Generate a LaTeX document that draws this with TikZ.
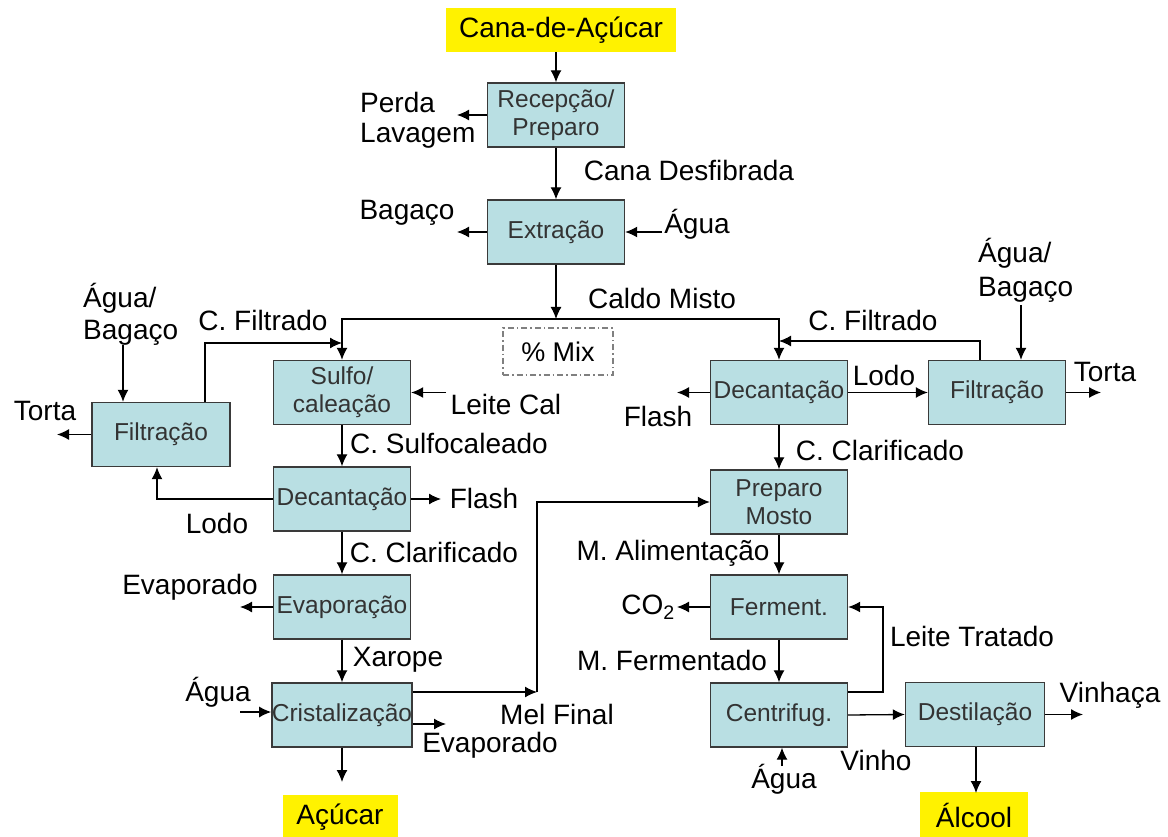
\documentclass[tikz,border=0pt]{standalone}
\usepackage{fontspec}
\setmainfont{Liberation Sans}
\usetikzlibrary{arrows.meta}
\definecolor{boxfill}{HTML}{B9DFE3}
\definecolor{boxline}{HTML}{3A3A3A}
\definecolor{boxtext}{HTML}{333333}
\definecolor{mixline}{HTML}{808080}
\begin{document}
\begin{tikzpicture}[x=1pt,y=-1pt,
  proc/.style={draw=boxline, line width=1.4pt, fill=boxfill, minimum width=137pt, minimum height=64pt, inner sep=0pt, align=center, font=\fontsize{24.5}{28}\selectfont, text=boxtext},
  prod/.style={fill=yellow, inner sep=0pt, font=\fontsize{28}{32}\selectfont},
  lbl/.style={inner sep=0pt, font=\fontsize{28}{32}\selectfont, align=left},
  arr/.style={-{Latex[length=12pt,width=11pt]}, line width=1.3pt},
  ln/.style={line width=1.3pt}]
\useasboundingbox (0,0) rectangle (1168,837);
\fill[white] (0,0) rectangle (1168,837);

% process boxes
\node[prod, minimum width=230pt, minimum height=44pt] (cana) at (561,30) {Cana-de-Açúcar};
\node[proc] (recep) at (556,115) {Recepção/\\Preparo};
\node[proc] (extr) at (556,232) {Extração};
\node[proc] (sulfo) at (342,392.5) {Sulfo/\\caleação};
\node[proc] (decL) at (342,499) {Decantação};
\node[proc] (evap) at (342,607) {Evaporação};
\node[proc] (crist) at (342,715) {Cristalização};
\node[proc, minimum width=138pt] (filtL) at (161,434.5) {Filtração};
\node[proc] (decR) at (779,392.5) {Decantação};
\node[proc] (filtR) at (997,392.5) {Filtração};
\node[proc] (prep) at (779,502) {Preparo\\Mosto};
\node[proc] (ferm) at (779,607) {Ferment.};
\node[proc] (centr) at (779,715) {Centrifug.};
\node[proc, minimum width=139pt] (dest) at (975,714.5) {Destilação};
\node[prod, minimum width=115pt, minimum height=44pt] (acucar) at (340,817) {Açúcar};
\node[prod, minimum width=108pt, minimum height=46pt] (alcool) at (974,815) {Álcool};
\node[draw=mixline, dash pattern=on 6pt off 3pt on 1.5pt off 3pt, line width=1.5pt, minimum width=110pt, minimum height=47pt, inner sep=0pt, font=\fontsize{27}{30}\selectfont] (mix) at (558,351.5) {\% Mix};

% labels
\node[lbl, anchor=west] (perda) at (360,120) {Perda\\[-2pt]Lavagem};
\node[lbl] (canadesf) at (689,170) {Cana Desfibrada};
\node[lbl] (bagaco) at (407,213) {Bagaço};
\node[lbl] (aguaE) at (697,224) {Água};
\node[lbl] (caldo) at (662,298) {Caldo Misto};
\node[lbl] (cfiltL) at (263,320) {C. Filtrado};
\node[lbl, anchor=west] (abL) at (83,314) {Água/\\Bagaço};
\node[lbl] (tortaL) at (45,411) {Torta};
\node[lbl] (leitecal) at (506,404) {Leite Cal};
\node[lbl] (csulfo) at (449,443) {C. Sulfocaleado};
\node[lbl] (flashL) at (484,498) {Flash};
\node[lbl] (lodoL) at (217,523) {Lodo};
\node[lbl] (cclarL) at (434,552) {C. Clarificado};
\node[lbl] (evapdoL) at (190,587) {Evaporado};
\node[lbl] (xarope) at (398,660) {Xarope};
\node[lbl] (aguaC) at (218,692) {Água};
\node[lbl] (evapdoB) at (490,745) {Evaporado};
\node[lbl] (melfinal) at (557,714) {Mel Final};
\node[lbl] (cfiltR) at (873,320) {C. Filtrado};
\node[lbl, anchor=west] (abR) at (978,270) {Água/\\[2pt]Bagaço};
\node[lbl] (lodoR) at (884,375) {Lodo};
\node[lbl] (tortaR) at (1105,372) {Torta};
\node[lbl] (flashR) at (658,416) {Flash};
\node[lbl] (cclarR) at (880,450) {C. Clarificado};
\node[lbl] (malim) at (673,553) {M. Alimentação};
\node[lbl] (co2) at (648,607) {CO\textsubscript{2}};
\node[lbl] (leitetr) at (972,636) {Leite Tratado};
\node[lbl] (mferm) at (672,660) {M. Fermentado};
\node[lbl] (vinho) at (876,760) {Vinho};
\node[lbl] (aguaB) at (784,779) {Água};
\node[lbl] (vinhaca) at (1110,695) {Vinhaça};

% coordinates
\coordinate (split) at (556,319);
\coordinate (pEnd) at (457,115);
\coordinate (bEnd) at (457,232);
\coordinate (aEs) at (662,232);
\coordinate (cfL) at (342,343);
\coordinate (cfR) at (779,341);
\coordinate (abLs) at (123,345);
\coordinate (abRs) at (1021,305);
\coordinate (tLe) at (57,434.5);
\coordinate (tRe) at (1101,392.5);
\coordinate (lcS) at (446,392.5);
\coordinate (fLe) at (441,499);
\coordinate (lodoC) at (157,499);
\coordinate (evLe) at (240,607);
\coordinate (agCs) at (240,712);
\coordinate (evBe) at (446,724);
\coordinate (melC) at (537,692);
\coordinate (acE) at (342,782);
\coordinate (fRe) at (677,392.5);
\coordinate (co2e) at (677,607);
\coordinate (ltC) at (883,692);
\coordinate (agBs) at (782,766);
\coordinate (vhE) at (1083,714.5);
\coordinate (alE) at (976,793);

% connectors
\draw[arr] (recep.north |- cana.south) -- (recep.north);
\draw[arr] (recep.west) -- (pEnd);
\draw[arr] (recep.south) -- (extr.north);
\draw[arr] (extr.west) -- (bEnd);
\draw[arr] (aEs) -- (extr.east);
\draw[arr] (extr.south) -- (split);
\draw[arr] (split) -| (sulfo.north);
\draw[arr] (split) -| (decR.north);
\draw[arr] (filtL.north -| 205,0) |- (cfL);
\draw[arr] (abLs) -- (abLs |- filtL.north);
\draw[arr] (filtL.west) -- (tLe);
\draw[arr] (lcS) -- (sulfo.east);
\draw[arr] (sulfo.south) -- (decL.north);
\draw[arr] (decL.east) -- (fLe);
\draw[arr] (decL.west) -- (lodoC) -- (lodoC |- filtL.south);
\draw[arr] (decL.south) -- (evap.north);
\draw[arr] (evap.west) -- (evLe);
\draw[arr] (evap.south) -- (crist.north);
\draw[arr] (agCs) -- (agCs -| crist.west);
\draw[arr] (crist.east |- evBe) -- (evBe);
\draw[arr] (crist.east |- melC) -- (melC);
\draw[arr] (melC) |- (prep.west);
\draw[arr] (crist.south) -- (acE);
\draw[arr] (filtR.north -| 980,0) |- (cfR);
\draw[arr] (abRs) -- (abRs |- filtR.north);
\draw[arr] (filtR.east) -- (tRe);
\draw[arr] (decR.east) -- (filtR.west);
\draw[arr] (decR.west) -- (fRe);
\draw[arr] (decR.south) -- (prep.north);
\draw[arr] (prep.south) -- (ferm.north);
\draw[arr] (ferm.west) -- (co2e);
\draw[arr] (ferm.south) -- (centr.north);
\draw[arr] (centr.east |- ltC) -- (ltC) |- (ferm.east);
\draw[arr] (agBs) -- (agBs |- centr.south);
\draw[arr] (centr.east) -- (dest.west);
\draw[arr] (dest.east) -- (vhE);
\draw[arr] (dest.south -| alE) -- (alE);
\end{tikzpicture}
\end{document}
